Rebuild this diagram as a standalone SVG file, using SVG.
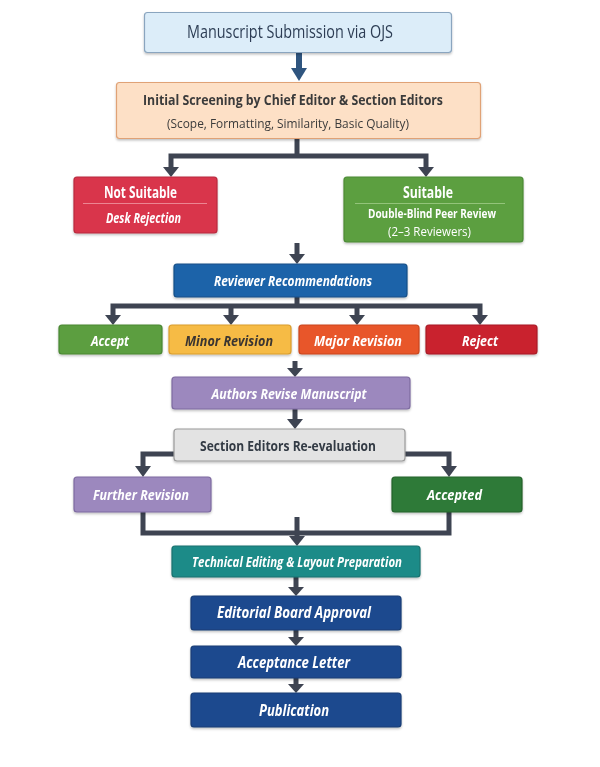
<svg xmlns="http://www.w3.org/2000/svg" width="600" height="767" viewBox="0 0 600 767">
<defs>
<style>
text{font-family:"Open Sans","Liberation Sans",sans-serif;text-anchor:middle}
.b{font-weight:bold}
.i{font-style:italic;font-weight:bold}
.w{fill:#ffffff}
.c{fill:none;stroke:#3e4452;stroke-width:5;stroke-linejoin:miter}
.h{fill:#3e4452}
.box{stroke-width:1.2}
</style>
<filter id="sh" x="-5%" y="-10%" width="110%" height="130%">
<feDropShadow dx="0" dy="1.5" stdDeviation="1.2" flood-color="#000" flood-opacity="0.25"/>
</filter>
</defs>
<rect width="600" height="767" fill="#ffffff"/>

<g id="connectors">
<line x1="299" y1="53" x2="299" y2="70" stroke="#2f557f" stroke-width="6"/>
<polygon points="291,68 307,68 299,81" fill="#2f557f"/>

<path class="c" d="M297,139 V156 M171,172 V156 H426 V172"/>
<polygon class="h" points="163,167 179,167 171,177"/>
<polygon class="h" points="418,167 434,167 426,177"/>

<path class="c" d="M297,243 V256"/>
<polygon class="h" points="289,254 305,254 297,264"/>

<path class="c" d="M297,297 V306 M113,318 V306 H480 V318 M231,306 V318 M357,306 V318"/>
<polygon class="h" points="105,315 121,315 113,325"/>
<polygon class="h" points="223,315 239,315 231,325"/>
<polygon class="h" points="349,315 365,315 357,325"/>
<polygon class="h" points="472,315 488,315 480,325"/>

<path class="c" d="M295,361 V370"/>
<polygon class="h" points="287,368 303,368 295,377"/>
<path class="c" d="M295,409 V420"/>
<polygon class="h" points="287,419 303,419 295,429"/>

<path class="c" d="M174,454 H143 V468 M405,454 H449 V468"/>
<polygon class="h" points="135,466 151,466 143,477"/>
<polygon class="h" points="441,466 457,466 449,477"/>

<path class="c" d="M143,512 V533 H449 V512 M297,517 V538"/>
<polygon class="h" points="289,536 305,536 297,546"/>

<path class="c" d="M296,577 V588"/>
<polygon class="h" points="288,587 304,587 296,596"/>
<path class="c" d="M296,630 V638"/>
<polygon class="h" points="288,637 304,637 296,646"/>
<path class="c" d="M296,678 V685"/>
<polygon class="h" points="288,684 304,684 296,693"/>
</g>

<g id="submission" filter="url(#sh)">
<rect class="box" x="144.5" y="12.5" width="307" height="40" rx="3" fill="#dcedf9" stroke="#8aa5bf"/>
<text x="290" y="38" font-size="17.5" fill="#2d3e55" textLength="206" lengthAdjust="spacingAndGlyphs" font-weight="500">Manuscript Submission via OJS</text>
</g>

<g id="screening" filter="url(#sh)">
<rect class="box" x="116.5" y="82.5" width="364" height="56" rx="3" fill="#fde0c6" stroke="#e0a276"/>
<text class="b" x="293" y="105" font-size="14.5" fill="#3b3b3b" textLength="300" lengthAdjust="spacingAndGlyphs">Initial Screening by Chief Editor &amp; Section Editors</text>
<text x="288" y="128" font-size="13" fill="#3b3b3b" textLength="242" lengthAdjust="spacingAndGlyphs">(Scope, Formatting, Similarity, Basic Quality)</text>
</g>

<g id="not-suitable" filter="url(#sh)">
<rect class="box" x="74" y="177" width="143" height="56" rx="3" fill="#d9354c" stroke="#b82a3d"/>
<text class="b w" x="140.5" y="198" font-size="16" textLength="73" lengthAdjust="spacingAndGlyphs">Not Suitable</text>
<line x1="83" y1="203.5" x2="207" y2="203.5" stroke="#ec8592" stroke-width="1"/>
<text class="i w" x="143.5" y="223" font-size="13.5" textLength="75" lengthAdjust="spacingAndGlyphs">Desk Rejection</text>
</g>

<g id="suitable" filter="url(#sh)">
<rect class="box" x="344" y="177" width="179" height="65" rx="3" fill="#5c9f41" stroke="#4b8a35"/>
<text class="b w" x="428" y="198" font-size="16" textLength="50" lengthAdjust="spacingAndGlyphs">Suitable</text>
<line x1="355" y1="203.5" x2="505" y2="203.5" stroke="#93c47a" stroke-width="1"/>
<text class="b w" x="432" y="218" font-size="12.5" textLength="128" lengthAdjust="spacingAndGlyphs">Double-Blind Peer Review</text>
<text class="w" x="429.5" y="235.5" font-size="12.5" textLength="83" lengthAdjust="spacingAndGlyphs">(2–3 Reviewers)</text>
</g>

<g id="reviewer-recommendations" filter="url(#sh)">
<rect class="box" x="174" y="264" width="233" height="33" rx="3" fill="#1f64a9" stroke="#174f87"/>
<text class="i w" x="293" y="286" font-size="14.5" textLength="158" lengthAdjust="spacingAndGlyphs">Reviewer Recommendations</text>
</g>

<g id="accept" filter="url(#sh)">
<rect class="box" x="59" y="325" width="103" height="29" rx="3" fill="#5b9e3f" stroke="#4a8733"/>
<text class="i w" x="110" y="346" font-size="15" textLength="38" lengthAdjust="spacingAndGlyphs">Accept</text>
</g>
<g id="minor-revision" filter="url(#sh)">
<rect class="box" x="169" y="325" width="122" height="29" rx="3" fill="#f6bb45" stroke="#d99d2e"/>
<text class="i" x="229" y="346" font-size="15" fill="#3a3530" textLength="88" lengthAdjust="spacingAndGlyphs">Minor Revision</text>
</g>
<g id="major-revision" filter="url(#sh)">
<rect class="box" x="299" y="325" width="120" height="29" rx="3" fill="#e8572b" stroke="#c9461f"/>
<text class="i w" x="358" y="346" font-size="15" textLength="88" lengthAdjust="spacingAndGlyphs">Major Revision</text>
</g>
<g id="reject" filter="url(#sh)">
<rect class="box" x="426" y="325" width="111" height="29" rx="3" fill="#c9232f" stroke="#a81b26"/>
<text class="i w" x="480" y="346" font-size="15" textLength="36" lengthAdjust="spacingAndGlyphs">Reject</text>
</g>

<g id="authors-revise" filter="url(#sh)">
<rect class="box" x="172" y="377" width="238" height="32" rx="3" fill="#9c88be" stroke="#7d6aa0"/>
<text class="i w" x="289" y="399" font-size="15" textLength="155" lengthAdjust="spacingAndGlyphs">Authors Revise Manuscript</text>
</g>

<g id="re-evaluation" filter="url(#sh)">
<rect class="box" x="174" y="429" width="231" height="32" rx="3" fill="#e3e3e3" stroke="#9a9a9a"/>
<text class="b" x="288" y="451" font-size="15" fill="#333a44" textLength="176" lengthAdjust="spacingAndGlyphs">Section Editors Re-evaluation</text>
</g>

<g id="further-revision" filter="url(#sh)">
<rect class="box" x="74" y="477" width="137" height="35" rx="3" fill="#9c88be" stroke="#7d6aa0"/>
<text class="i w" x="141" y="500" font-size="15" textLength="96" lengthAdjust="spacingAndGlyphs">Further Revision</text>
</g>
<g id="accepted" filter="url(#sh)">
<rect class="box" x="392" y="477" width="130" height="35" rx="3" fill="#2f7a37" stroke="#24622b"/>
<text class="i w" x="454.5" y="500" font-size="15" textLength="55" lengthAdjust="spacingAndGlyphs">Accepted</text>
</g>

<g id="technical-editing" filter="url(#sh)">
<rect class="box" x="172" y="546" width="248" height="31" rx="3" fill="#1f8b88" stroke="#18716e"/>
<text class="i w" x="297" y="567" font-size="14" textLength="210" lengthAdjust="spacingAndGlyphs">Technical Editing &amp; Layout Preparation</text>
</g>
<g id="board-approval" filter="url(#sh)">
<rect class="box" x="191" y="596" width="210" height="34" rx="3" fill="#1f4a8e" stroke="#183c75"/>
<text class="i w" x="294" y="618" font-size="16" textLength="154" lengthAdjust="spacingAndGlyphs">Editorial Board Approval</text>
</g>
<g id="acceptance-letter" filter="url(#sh)">
<rect class="box" x="191" y="646" width="210" height="32" rx="3" fill="#1f4a8e" stroke="#183c75"/>
<text class="i w" x="294" y="668" font-size="16" textLength="112" lengthAdjust="spacingAndGlyphs">Acceptance Letter</text>
</g>
<g id="publication" filter="url(#sh)">
<rect class="box" x="191" y="693" width="210" height="34" rx="3" fill="#1f4a8e" stroke="#183c75"/>
<text class="i w" x="294" y="716" font-size="16" textLength="70" lengthAdjust="spacingAndGlyphs">Publication</text>
</g>
</svg>
